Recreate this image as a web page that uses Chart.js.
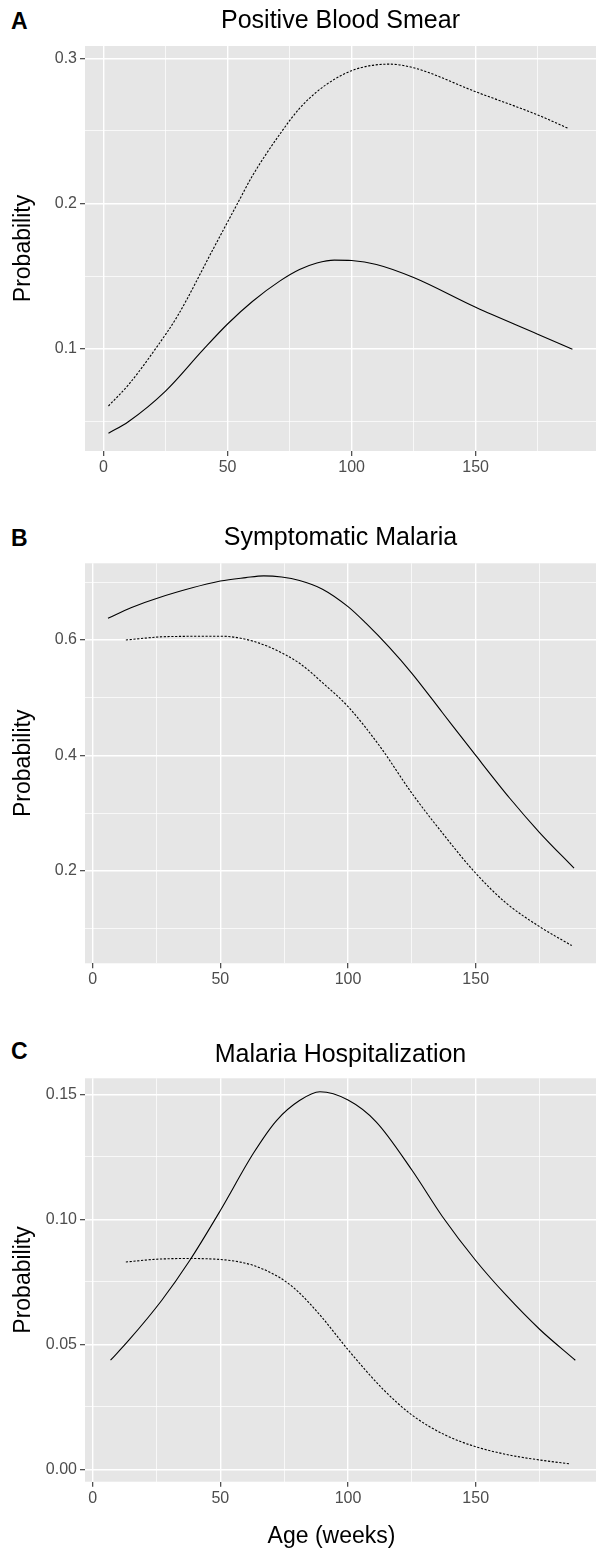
<!DOCTYPE html>
<html>
<head>
<meta charset="utf-8">
<script src="https://cdn.jsdelivr.net/npm/chart.js@4.4.0/dist/chart.umd.min.js"></script>
<style>
  html, body { margin: 0; padding: 0; background: #ffffff; width: 596px; height: 1550px; overflow: hidden;
    font-family: "Liberation Sans", Arial, sans-serif; }
  .panel { position: absolute; left: 0; width: 596px; }
  .letter { position: absolute; left: 11px; font-weight: bold; font-size: 23px; line-height: 23px; color: #000; }
  .xtitle { position: absolute; left: 0; width: 663px; text-align: center; font-size: 23px; line-height: 23px; color: #000; }
</style>
</head>
<body>
<div class="letter" style="top:10px">A</div>
<div class="letter" style="top:527px">B</div>
<div class="letter" style="top:1040px">C</div>
<div class="panel" style="top:0;height:500px"><canvas id="cA" width="596" height="500"></canvas></div>
<div class="panel" style="top:500px;height:500px"><canvas id="cB" width="596" height="500"></canvas></div>
<div class="panel" style="top:1000px;height:550px"><canvas id="cC" width="596" height="550"></canvas></div>
<div class="xtitle" style="top:1524px">Age (weeks)</div>
<script>
// ---------------- data ----------------
const titles = ['Positive Blood Smear', 'Symptomatic Malaria', 'Malaria Hospitalization'];
const yAxisTitle = 'Probability';

const xMajorTicks = [0, 50, 100, 150];
const xMajorLabels = ['0', '50', '100', '150'];
const xMinorTicks = [25, 75, 125, 175];

// Panel A: Positive Blood Smear
const ageA_solid  = [2, 10, 25, 40, 50, 60, 71, 79, 86, 93, 100, 110, 125, 150, 175, 189];
const probA_solid = [0.0417, 0.0497, 0.0708, 0.099, 0.117, 0.1325, 0.1465, 0.1545, 0.159, 0.161, 0.1607, 0.158, 0.149, 0.1285, 0.110, 0.0996];
const ageA_dash   = [2, 10, 21, 30, 44, 54, 60, 72, 79, 86, 93, 100, 107, 115, 125, 150, 175, 187];
const probA_dash  = [0.0605, 0.075, 0.100, 0.123, 0.168, 0.200, 0.219, 0.250, 0.2655, 0.277, 0.2855, 0.2915, 0.2948, 0.296, 0.2935, 0.277, 0.261, 0.252];
const yMajorA = [0.1, 0.2, 0.3];
const yLabelsA = ['0.1', '0.2', '0.3'];
const yMinorA = [0.05, 0.15, 0.25];

// Panel B: Symptomatic Malaria
const ageB_solid  = [6, 15, 25, 50, 60, 67, 74, 81, 90, 100, 107, 116, 125, 137, 150, 163.5, 175, 188.5];
const probB_solid = [0.6376, 0.656, 0.672, 0.702, 0.708, 0.711, 0.709, 0.703, 0.688, 0.6577, 0.629, 0.588, 0.5423, 0.474, 0.400, 0.325, 0.2665, 0.2047];
const ageB_dash   = [13, 29, 50, 58, 68, 81, 90, 100, 112.5, 125, 137, 150, 162, 175, 187.6];
const probB_dash  = [0.600, 0.6058, 0.6065, 0.603, 0.590, 0.5596, 0.526, 0.4846, 0.4156, 0.3345, 0.2653, 0.196, 0.144, 0.1035, 0.0707];
const yMajorB = [0.2, 0.4, 0.6];
const yLabelsB = ['0.2', '0.4', '0.6'];
const yMinorB = [0.1, 0.3, 0.5, 0.7];

// Panel C: Malaria Hospitalization
const ageC_solid  = [7, 14, 27, 38, 50, 63, 72, 81, 89, 100, 111, 125, 137, 150, 162, 175, 189];
const probC_solid = [0.0436, 0.0514, 0.0675, 0.0835, 0.1035, 0.1265, 0.1395, 0.1475, 0.151, 0.1477, 0.139, 0.1197, 0.101, 0.0835, 0.0695, 0.056, 0.0436];
const ageC_dash   = [13, 25, 37, 48.6, 56, 63, 70, 76, 81, 90, 100, 114, 125, 138, 150, 163, 175, 187];
const probC_dash  = [0.0829, 0.084, 0.0843, 0.084, 0.0832, 0.0815, 0.0785, 0.0748, 0.0705, 0.0605, 0.0478, 0.0317, 0.0217, 0.0137, 0.009, 0.0057, 0.0037, 0.0021];
const yMajorC = [0.00, 0.05, 0.10, 0.15];
const yLabelsC = ['0.00', '0.05', '0.10', '0.15'];
const yMinorC = [0.025, 0.075, 0.125];

// ---------------- rendering ----------------
Chart.defaults.font.family = "'Liberation Sans', Arial, sans-serif";

const panelBg = {
  id: 'panelBg',
  beforeDraw(chart) {
    const { ctx, chartArea } = chart;
    ctx.save();
    ctx.fillStyle = '#E6E6E6';
    ctx.fillRect(chartArea.left, chartArea.top, chartArea.right - chartArea.left, chartArea.bottom - chartArea.top);
    ctx.restore();
  }
};

function pts(xs, ys) { return xs.map((x, i) => ({ x: x, y: ys[i] })); }
function isIn(arr, v) { return arr.some(a => Math.abs(a - v) < 1e-9); }

function makePanel(id, o) {
  const yAll = o.yMajor.concat(o.yMinor).sort((a, b) => a - b);
  const xAll = xMajorTicks.concat(xMinorTicks).sort((a, b) => a - b);
  const gridStyle = (majors) => ({
    color: '#FFFFFF',
    lineWidth: (c) => isIn(majors, c.tick.value) ? 1.4 : 0.7,
    drawTicks: true,
    tickLength: 5,
    tickWidth: 1.1,
    tickColor: (c) => isIn(majors, c.tick.value) ? '#333333' : 'rgba(0,0,0,0)'
  });
  new Chart(document.getElementById(id), {
    type: 'line',
    data: {
      datasets: [
        { data: pts(o.xs1, o.ys1), borderColor: '#000', borderWidth: 1.1, pointRadius: 0,
          cubicInterpolationMode: 'monotone', fill: false },
        { data: pts(o.xs2, o.ys2), borderColor: '#000', borderWidth: 1.1, borderDash: [2.2, 1.6], pointRadius: 0,
          cubicInterpolationMode: 'monotone', fill: false }
      ]
    },
    options: {
      responsive: false,
      animation: false,
      devicePixelRatio: 1,
      layout: { padding: 0 },
      plugins: {
        legend: { display: false },
        tooltip: { enabled: false },
        title: {
          display: true, text: o.title, color: '#000', fullSize: false,
          font: { size: 25, weight: 'normal' },
          padding: { top: o.tPadTop, bottom: o.tPadBottom }
        }
      },
      scales: {
        x: {
          type: 'linear', min: o.xMin, max: o.xMax,
          border: { display: false },
          grid: gridStyle(xMajorTicks),
          afterBuildTicks: (s) => { s.ticks = xAll.map(v => ({ value: v })); },
          afterFit: (s) => { s.height = o.xAxisH; },
          ticks: {
            autoSkip: false, maxRotation: 0, padding: 2, color: '#4D4D4D', font: { size: 16 },
            callback: (v) => { const i = xMajorTicks.findIndex(a => Math.abs(a - v) < 1e-9); return i >= 0 ? xMajorLabels[i] : ''; }
          }
        },
        y: {
          type: 'linear', min: o.yMin, max: o.yMax,
          border: { display: false },
          grid: gridStyle(o.yMajor),
          afterBuildTicks: (s) => { s.ticks = yAll.map(v => ({ value: v })); },
          afterFit: (s) => { s.width = 85; },
          title: { display: true, text: yAxisTitle, color: '#000', font: { size: 23 }, padding: { top: 10, bottom: 0 } },
          ticks: {
            autoSkip: false, padding: 3, color: '#4D4D4D', font: { size: 16 },
            callback: (v) => { const i = o.yMajor.findIndex(a => Math.abs(a - v) < 1e-9); return i >= 0 ? o.yLabels[i] : ''; }
          }
        }
      }
    },
    plugins: [panelBg]
  });
}

makePanel('cA', { title: titles[0], xs1: ageA_solid, ys1: probA_solid, xs2: ageA_dash, ys2: probA_dash,
  xMin: -7.46, xMax: 198.5, yMin: 0.0295, yMax: 0.3085, yMajor: yMajorA, yLabels: yLabelsA, yMinor: yMinorA,
  tPadTop: 6.3, tPadBottom: 9.7, xAxisH: 49 });
makePanel('cB', { title: titles[1], xs1: ageB_solid, ys1: probB_solid, xs2: ageB_dash, ys2: probB_dash,
  xMin: -3.0, xMax: 197.1, yMin: 0.04, yMax: 0.7328, yMajor: yMajorB, yLabels: yLabelsB, yMinor: yMinorB,
  tPadTop: 23, tPadBottom: 10.3, xAxisH: 36.7 });
makePanel('cC', { title: titles[2], xs1: ageC_solid, ys1: probC_solid, xs2: ageC_dash, ys2: probC_dash,
  xMin: -3.0, xMax: 197.1, yMin: -0.005, yMax: 0.1564, yMajor: yMajorC, yLabels: yLabelsC, yMinor: yMinorC,
  tPadTop: 39.7, tPadBottom: 8.6, xAxisH: 68.3 });
</script>
</body>
</html>
